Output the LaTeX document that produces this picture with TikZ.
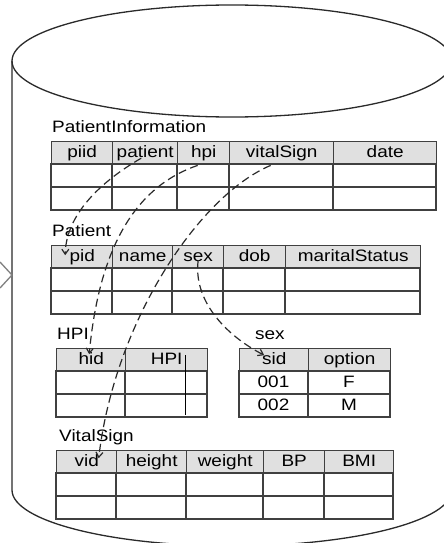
\documentclass[tikz,border=0pt]{standalone}
\usepackage{fontspec}
\setmainfont{Liberation Sans}[FakeStretch=1.15]
\usetikzlibrary{arrows.meta}

\definecolor{gridline}{HTML}{404040}
\definecolor{hdrfill}{HTML}{E0E0E0}
\definecolor{inkline}{HTML}{2A2A2A}

\newcommand\tabfont{\fontsize{16.5pt}{19pt}\selectfont}

% one table: top edge, then a list  x-left/x-right/header text/node name
\newcommand\dbtable[2]{%
  \foreach \xa/\xb/\lab/\nm in {#2} {
    \node[hdr, minimum width={(\xb-\xa)*1pt}] (\nm) at (\xa,#1) {\lab};
    \draw[rowln] (\xa,#1+23) rectangle (\xb,#1+46);
    \draw[rowln] (\xa,#1+46) rectangle (\xb,#1+69);
  }%
}

\tikzset{
  hdr/.style={draw=gridline, line width=1.4pt, fill=hdrfill, inner sep=0pt,
    minimum height=23pt, anchor=north west, font=\tabfont,
    text height=12pt, text depth=3pt},
  rowln/.style={draw=gridline, line width=1.4pt},
  celltext/.style={inner sep=0pt, font=\tabfont, text height=12pt, text depth=3pt},
  title/.style={anchor=base west, inner sep=0pt, font=\tabfont},
  cyl/.style={draw=inkline, line width=1.3pt},
  link/.style={draw=inkline, line width=1.2pt, dash pattern=on 8pt off 4.5pt,
    -{Straight Barb[length=5pt,width=7pt]}},
}

\begin{document}
\begin{tikzpicture}[x=1pt, y=-1pt]
\useasboundingbox (0,0) rectangle (444,543);
\fill[white] (0,0) rectangle (444,543);

% database cylinder
\draw[cyl] (232,61) ellipse [x radius=220, y radius=56];
\draw[cyl] (12,61) -- (12,490) arc[start angle=180, end angle=0, x radius=220, y radius=56] -- (452,61);
\draw[cyl, draw=gray] (0,262) -- (12,275) -- (0,288);

% table titles
\node[title] (t-pi) at (52,132) {PatientInformation};
\node[title] (t-p)  at (52,236) {Patient};
\node[title] (t-h)  at (57,339) {HPI};
\node[title] (t-s)  at (255,339) {sex};
\node[title] (t-v)  at (59,441) {VitalSign};

% tables
\dbtable{141}{51/112/piid/pi-piid, 112/177/patient/pi-patient, 177/229/hpi/pi-hpi,
  229/333/vitalSign/pi-vital, 333/436/date/pi-date}
\dbtable{245}{51/112/pid/p-pid, 112/172/name/p-name, 172/223/sex/p-sex,
  223/285/dob/p-dob, 285/420/maritalStatus/p-marital}
\dbtable{348}{56/125/hid/h-hid, 125/207/HPI/h-hpi}
\dbtable{348}{239/308/sid/s-sid, 308/390/option/s-option}
\dbtable{450}{56/116/vid/v-vid, 116/186/height/v-height, 186/263/weight/v-weight,
  263/324/BP/v-bp, 324/393/BMI/v-bmi}

% extra rule inside the HPI column
\draw[draw=black, line width=1pt] (185,355) -- (185,415);

% sex lookup values
\node[celltext] (s-001) at (273.5,382.5) {001};
\node[celltext] (s-f)   at (349,382.5) {F};
\node[celltext] (s-002) at (273.5,405.5) {002};
\node[celltext] (s-m)   at (349,405.5) {M};

% foreign-key links
\draw[link] ([xshift=-4pt,yshift=-5pt]pi-patient.center) .. controls (100,182) and (66,215) .. ([xshift=-17pt,yshift=2pt]p-pid.center);
\draw[link] ([xshift=-6pt]pi-hpi.south) .. controls (140,185) and (100,240) .. ([xshift=-2pt,yshift=6pt]h-hid.center);
\draw[link] ([xshift=-11pt]pi-vital.south) .. controls (200,195) and (115,320) .. ([xshift=12pt,yshift=4pt]v-vid.center);
\draw[link] ([yshift=-3pt]p-sex.center) .. controls (193,300) and (225,335) .. ([xshift=-10pt,yshift=5pt]s-sid.center);
\end{tikzpicture}
\end{document}
